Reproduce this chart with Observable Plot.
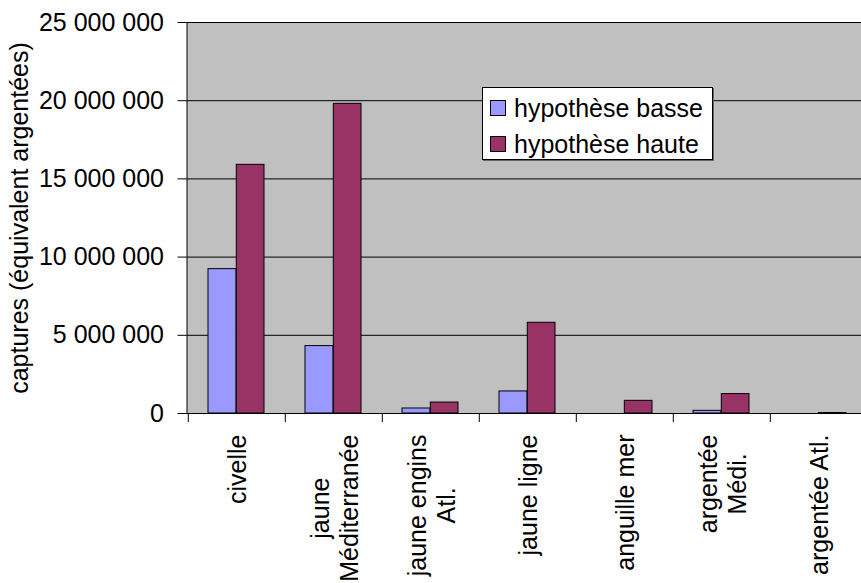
<!DOCTYPE html>
<html><head><meta charset="utf-8">
<script src="https://cdn.jsdelivr.net/npm/d3@7"></script>
<script src="https://cdn.jsdelivr.net/npm/@observablehq/plot@0.6"></script>
<style>
body{margin:0;background:#fff;}
#chart{position:relative;width:861px;height:583px;overflow:hidden;font-family:"Liberation Sans",Arial,sans-serif;}
.legend{position:absolute;left:482px;top:87px;width:229px;height:71px;background:#fff;border:1px solid #000;box-shadow:1px 1px 0 #666;}
.item{position:absolute;left:7px;height:30px;display:flex;align-items:center;font-size:25px;line-height:30px;color:#000;white-space:nowrap;}
.sw{width:14px;height:14px;border:1px solid #000;margin-right:8px;}
</style></head><body><div id="chart"></div>
<script>
const categories = ["civelle", "jaune\nMéditerranée", "jaune engins\nAtl.", "jaune ligne", "anguille mer", "argentée\nMédi.", "argentée Atl."];
const basseValues = [9230000, 4310000, 320000, 1410000, 0, 170000, 0];
const hauteValues = [15900000, 19800000, 700000, 5800000, 810000, 1240000, 30000];
const seriesNames = ["hypothèse basse", "hypothèse haute"];
const seriesColors = ["#9999FF", "#993366"];
const yTicks = [0, 5000000, 10000000, 15000000, 20000000, 25000000];
const yTitle = "captures (équivalent argentées)";

const rows = categories.flatMap((c, i) => [
  {category: c, series: seriesNames[0], value: basseValues[i]},
  {category: c, series: seriesNames[1], value: hauteValues[i]}
]);
const fmt = d => d3.format(",")(d).replace(/,/g, " ");

const plot = Plot.plot({
  width: 861, height: 583,
  marginLeft: 186.5, marginRight: -7, marginTop: 22, marginBottom: 170,
  style: {fontFamily: '"Liberation Sans", Arial, sans-serif', fontSize: "25px", background: "transparent", color: "#000"},
  x: {domain: categories, padding: 0, label: null},
  y: {domain: [0, 25000000], label: null},
  color: {domain: seriesNames, range: seriesColors},
  marks: [
    Plot.frame({fill: "#C0C0C0", stroke: "none"}),
    Plot.gridY(yTicks, {stroke: "#000", strokeOpacity: 1}),
    Plot.barY(rows.filter(d => d.series === seriesNames[0]), {x: "category", y: "value", fill: "series", stroke: "#000", strokeWidth: 1, insetLeft: 20, insetRight: 49}),
    Plot.barY(rows.filter(d => d.series === seriesNames[1]), {x: "category", y: "value", fill: "series", stroke: "#000", strokeWidth: 1, insetLeft: 48.3, insetRight: 21}),
    Plot.frame({stroke: "#000", fill: "none"}),
    Plot.axisY(yTicks, {tickSize: 9, tickPadding: 14, tickFormat: fmt, label: yTitle, labelAnchor: "center", labelOffset: 177, labelArrow: "none"}),
    Plot.axisX({tickSize: 9, tickFormat: () => "", dx: -48.7, label: null}),
    Plot.axisX({tickSize: 0, tickPadding: 21, tickRotate: -90, label: null, lineHeight: 1.15})
  ]
});
const chart = document.getElementById("chart");
chart.appendChild(plot);

// center the lines of multi-line category labels within their block
plot.querySelectorAll('g[aria-label="x-axis tick label"] text').forEach(t => {
  const spans = t.querySelectorAll("tspan");
  if (spans.length > 1) {
    const lens = Array.from(spans, s => s.getComputedTextLength());
    const m = Math.max(...lens);
    t.setAttribute("text-anchor", "middle");
    spans.forEach(s => s.setAttribute("x", -m / 2));
  }
});

// legend
const legend = document.createElement("div");
legend.className = "legend";
seriesNames.forEach((name, i) => {
  const item = document.createElement("div");
  item.className = "item";
  item.style.top = (5 + i * 36) + "px";
  const sw = document.createElement("div");
  sw.className = "sw";
  sw.style.background = seriesColors[i];
  item.appendChild(sw);
  item.appendChild(document.createTextNode(name));
  legend.appendChild(item);
});
chart.appendChild(legend);
</script>
</body></html>
